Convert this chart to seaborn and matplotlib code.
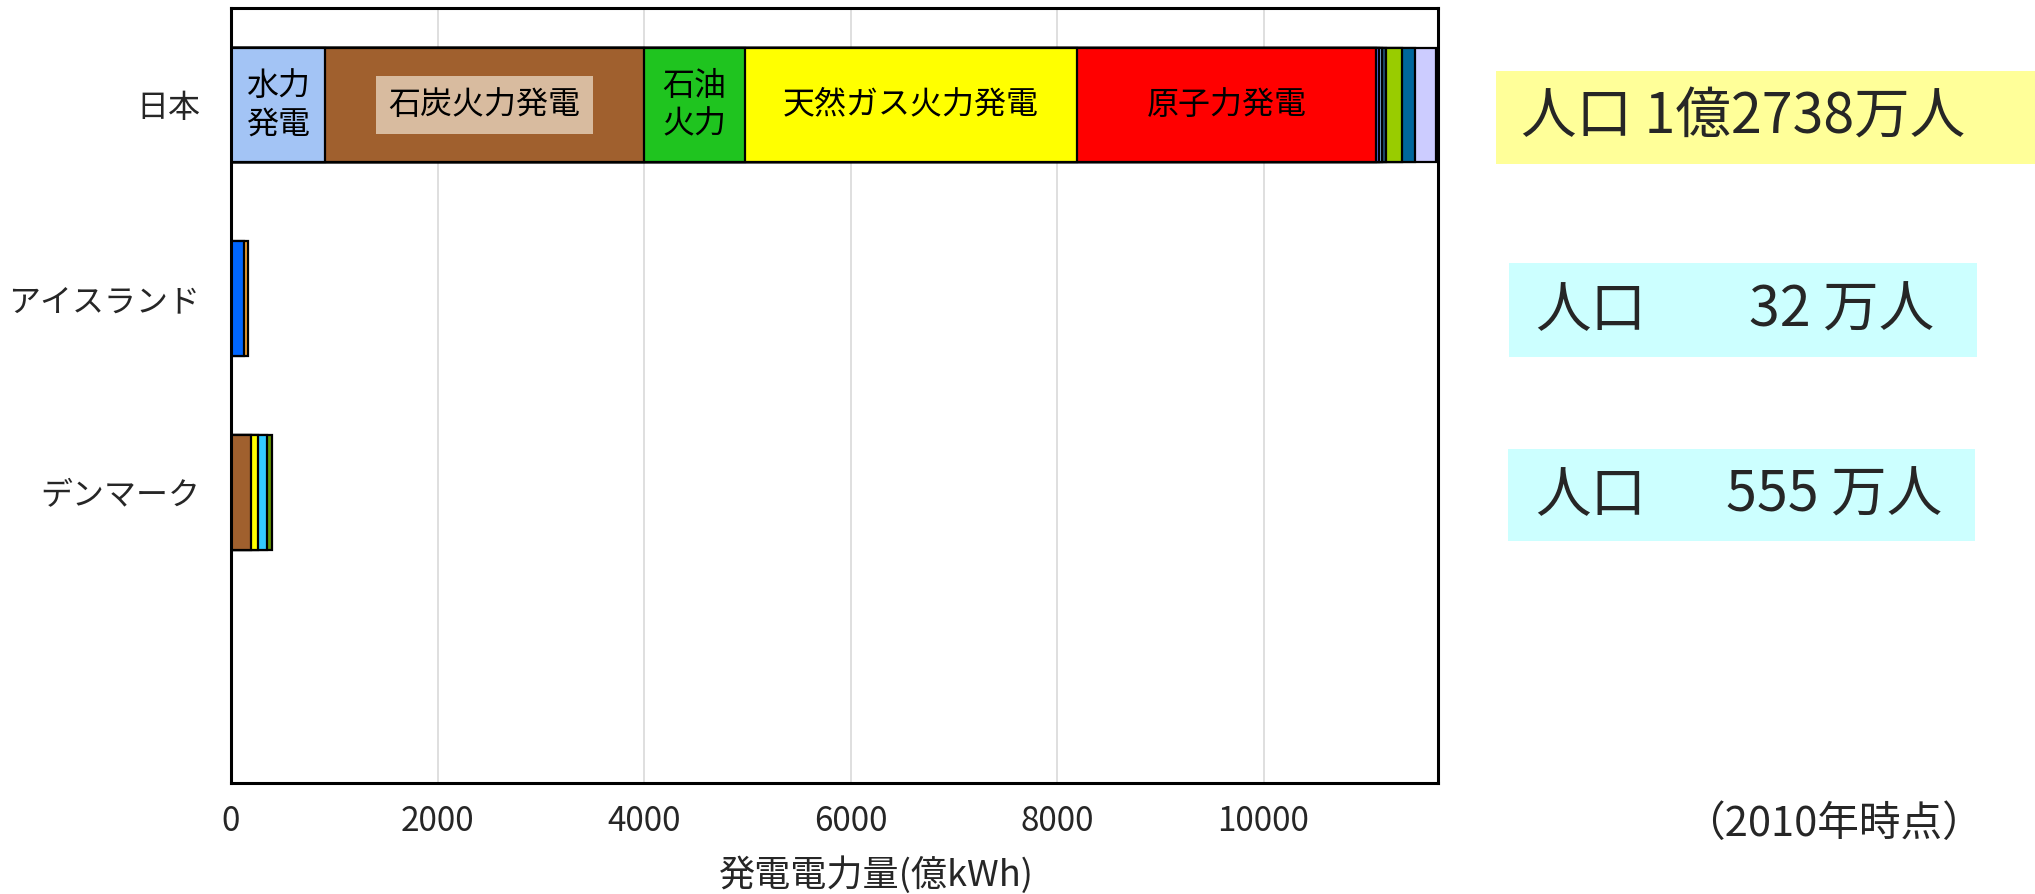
import seaborn as sns
import pandas as pd
import matplotlib.pyplot as plt
from matplotlib.patches import Rectangle

sns.set_style("white")
plt.rcParams['font.family'] = ['Noto Sans CJK JP', 'DejaVu Sans']

# data (億kWh)
countries = ["日本", "アイスランド", "デンマーク"]

japan_src = ["水力発電", "石炭火力発電", "石油火力", "天然ガス火力発電", "原子力発電",
             "その他a", "その他b", "その他c", "その他d", "その他e", "その他f"]
japan_val = [910, 3090, 978, 3216, 2896, 26, 32, 39, 155, 123, 206]
japan_col = ["#a3c4f5", "#a0602e", "#1fc41f", "#ffff00", "#ff0000",
             "#5a6cf0", "#7fb8f0", "#1f4f70", "#99cc00", "#00679c", "#ccccff"]

iceland_src = ["水力", "地熱"]
iceland_val = [126, 40]
iceland_col = ["#0066ff", "#f2a030"]

denmark_src = ["石炭", "天然ガス", "風力", "バイオマス"]
denmark_val = [190, 74, 82, 48]
denmark_col = ["#a0602e", "#ffff00", "#33ccff", "#669900"]

# labels drawn inside the Japan bar
japan_labels = {"水力発電": "水力\n発電", "石炭火力発電": "石炭火力発電",
                "石油火力": "石油\n火力", "天然ガス火力発電": "天然ガス火力発電",
                "原子力発電": "原子力発電"}

population = ["1億2738万人", "32 万人", "555 万人"]

rows = []
for country, srcs, vals, cols in [(countries[0], japan_src, japan_val, japan_col),
                                  (countries[1], iceland_src, iceland_val, iceland_col),
                                  (countries[2], denmark_src, denmark_val, denmark_col)]:
    end = 0
    for s, v, c in zip(srcs, vals, cols):
        rows.append({"country": country, "source": s, "start": end, "end": end + v, "color": c})
        end += v
df = pd.DataFrame(rows)

fig = plt.figure(figsize=(20.35, 8.94), dpi=100)
W, H = 2035, 894
ax = fig.add_axes([231 / W, 1 - 783 / H, 1207 / W, 775 / H])

# stacked bars: draw cumulative ends, longest first
for _, r in df.sort_values("end", ascending=False).iterrows():
    sns.barplot(x=[r["end"]], y=[r["country"]], order=countries, orient="h",
                color=r["color"], saturation=1, width=0.59,
                edgecolor="black", linewidth=1.6, ax=ax)

for _, r in df[df["country"] == countries[0]].iterrows():
    if r["source"] not in japan_labels:
        continue
    xc = (r["start"] + r["end"]) / 2
    kw = {}
    if r["source"] == "石炭火力発電":
        kw["bbox"] = dict(boxstyle="square,pad=0.4", facecolor="#d8bb9f", edgecolor="none")
    ax.text(xc, 0, japan_labels[r["source"]], ha="center", va="center",
            fontsize=23, linespacing=1.26, color="black", **kw)

ax.set_xlim(0, 11690)
ax.set_ylim(3.5, -0.5)
ax.set_xticks([0, 2000, 4000, 6000, 8000, 10000])
ax.set_xticklabels(["0", "2000", "4000", "6000", "8000", "10000"])
ax.grid(axis="x", color="#d9d9d9", linewidth=1.2)
ax.set_axisbelow(True)
ax.tick_params(axis="x", length=0, pad=15, labelsize=24)
ax.tick_params(axis="y", length=0, pad=22, labelsize=23)
ax.set_ylabel("")
ax.set_xlabel("発電電力量(億kWh)", fontsize=26)
ax.xaxis.set_label_coords((876 - 231) / 1207, -92 / 775)
ax.xaxis.label.set_va("center")
for sp in ax.spines.values():
    sp.set_color("black")
    sp.set_linewidth(2.2)

# population boxes on the right
def add_box(x0, y0, x1, y1, color):
    fig.patches.append(Rectangle((x0 / W, 1 - y1 / H), (x1 - x0) / W, (y1 - y0) / H,
                                 transform=fig.transFigure, facecolor=color,
                                 edgecolor="none", zorder=0))

add_box(1496, 71, 2035, 164, "#ffff99")
add_box(1509, 263, 1977, 357, "#ccffff")
add_box(1508, 449, 1975, 541, "#ccffff")

fig.text(1521 / W, 1 - 118 / H, "人口 " + population[0], fontsize=40, ha="left", va="center")
fig.text(1535 / W, 1 - 311 / H, "人口", fontsize=40, ha="left", va="center")
fig.text(1934 / W, 1 - 311 / H, population[1], fontsize=40, ha="right", va="center")
fig.text(1535 / W, 1 - 496 / H, "人口", fontsize=40, ha="left", va="center")
fig.text(1942 / W, 1 - 496 / H, population[2], fontsize=40, ha="right", va="center")

fig.text(1833 / W, 1 - 824 / H, "（2010年時点）", fontsize=30, ha="center", va="center")

fig.savefig("out.png", dpi=100)
